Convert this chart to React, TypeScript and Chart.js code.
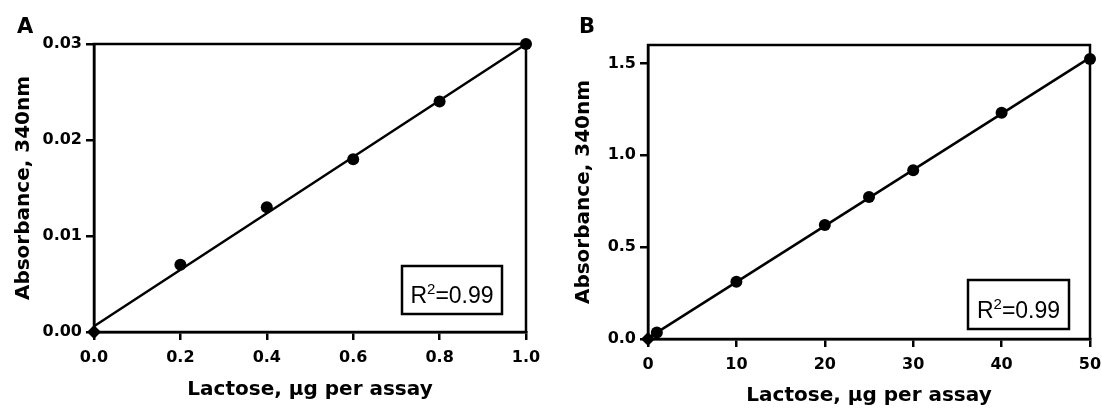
import React, { useEffect, useRef } from 'react';
import { Chart, registerables } from 'chart.js';

Chart.register(...registerables);

// Panel A data
const lactoseA = [0, 0.2, 0.4, 0.6, 0.8, 1.0];
const absorbanceA = [0, 0.007, 0.013, 0.018, 0.024, 0.030];
const fitXA = [0, 1.0];
const fitYA = [0.0006, 0.0300];
const xTicksA = [0, 0.2, 0.4, 0.6, 0.8, 1.0];
const yTicksA = [0, 0.01, 0.02, 0.03];

// Panel B data
const lactoseB = [0, 1, 10, 20, 25, 30, 40, 50];
const absorbanceB = [0, 0.035, 0.312, 0.62, 0.773, 0.919, 1.231, 1.524];
const fitXB = [0, 50];
const fitYB = [0.005, 1.531];
const xTicksB = [0, 10, 20, 30, 40, 50];
const yTicksB = [0, 0.5, 1.0, 1.5];

const xTitle = 'Lactose, µg per assay';
const yTitle = 'Absorbance, 340nm';
const INK = '#000';
const FONT = 'DejaVu Sans';
const BOX_FONT = 'Liberation Sans';
const LW = 2.5;

const framePlugin = {
  id: 'frame',
  beforeDatasetsDraw(chart: any) {
    const { ctx, chartArea } = chart;
    ctx.save();
    ctx.strokeStyle = INK;
    ctx.lineWidth = LW;
    ctx.strokeRect(chartArea.left, chartArea.top, chartArea.right - chartArea.left, chartArea.bottom - chartArea.top);
    ctx.restore();
  },
  afterDraw(chart: any, _args: any, opts: any) {
    const { ctx } = chart;
    ctx.save();
    // panel letter
    ctx.fillStyle = INK;
    ctx.font = `bold 21px "${FONT}"`;
    ctx.textBaseline = 'alphabetic';
    ctx.textAlign = 'left';
    ctx.fillText(opts.letter, opts.letterX, opts.letterY);
    // R² box
    const b = opts.box;
    ctx.lineWidth = LW;
    ctx.strokeStyle = INK;
    ctx.strokeRect(b.x, b.y, b.w, b.h);
    const big = `23px "${BOX_FONT}"`;
    const small = `15px "${BOX_FONT}"`;
    ctx.font = big;
    const wR = ctx.measureText('R').width;
    const wRest = ctx.measureText('=0.99').width;
    ctx.font = small;
    const w2 = ctx.measureText('2').width;
    const total = wR + w2 + wRest;
    let x = b.x + (b.w - total) / 2;
    const base = b.y + b.h - 11;
    ctx.font = big;
    ctx.fillText('R', x, base);
    x += wR;
    ctx.font = small;
    ctx.fillText('2', x, base - 9);
    x += w2;
    ctx.font = big;
    ctx.fillText('=0.99', x, base);
    ctx.restore();
  },
};

function makeConfig(p: any) {
  const pts = p.xs.map((x: number, i: number) => ({ x, y: p.ys[i] }));
  const fit = p.fx.map((x: number, i: number) => ({ x, y: p.fy[i] }));
  const tickFont = { family: FONT, size: 16, weight: 'bold' as const };
  const titleFont = { family: FONT, size: 20, weight: 'bold' as const };
  const grid = {
    display: true,
    drawOnChartArea: false,
    drawTicks: true,
    tickLength: 8,
    color: INK,
    lineWidth: LW,
  };
  return {
    type: 'scatter' as const,
    data: {
      datasets: [
        {
          data: fit,
          showLine: true,
          borderColor: INK,
          borderWidth: LW,
          pointRadius: 0,
          clip: false,
          order: 2,
        },
        {
          data: pts,
          showLine: false,
          backgroundColor: INK,
          borderColor: INK,
          borderWidth: 0,
          pointRadius: pts.map((_: any, i: number) => (i === 0 ? 7 : 6)),
          pointStyle: pts.map((_: any, i: number) => (i === 0 ? 'rectRot' : 'circle')),
          clip: false,
          order: 1,
        },
      ],
    },
    options: {
      responsive: false,
      animation: false,
      devicePixelRatio: 1,
      layout: { padding: p.padding },
      plugins: {
        legend: { display: false },
        tooltip: { enabled: false },
        frame: p.frame,
      },
      scales: {
        x: {
          type: 'linear',
          min: p.xMin,
          max: p.xMax,
          afterBuildTicks: (s: any) => {
            s.ticks = p.xTicks.map((v: number) => ({ value: v }));
          },
          afterFit: (s: any) => {
            s.height = p.xAxisH;
            s.paddingLeft = 0;
            s.paddingRight = 0;
          },
          ticks: {
            font: tickFont,
            color: INK,
            padding: p.xTickPad,
            maxRotation: 0,
            callback: p.xFmt,
          },
          grid,
          border: { display: true, color: INK, width: LW },
          title: {
            display: true,
            text: xTitle,
            font: titleFont,
            color: INK,
            padding: { top: 0, bottom: p.xTitlePad },
          },
        },
        y: {
          type: 'linear',
          min: p.yMin,
          max: p.yMax,
          afterBuildTicks: (s: any) => {
            s.ticks = p.yTicks.map((v: number) => ({ value: v }));
          },
          afterFit: (s: any) => {
            s.width = p.yAxisW;
            s.paddingTop = 0;
            s.paddingBottom = 0;
          },
          ticks: {
            font: tickFont,
            color: INK,
            padding: 4,
            callback: p.yFmt,
          },
          grid,
          border: { display: true, color: INK, width: LW },
          title: {
            display: true,
            text: yTitle,
            font: titleFont,
            color: INK,
            padding: { top: 12, bottom: 0 },
          },
        },
      },
    },
    plugins: [framePlugin],
  };
}

export default function App() {
  const refA = useRef<HTMLCanvasElement>(null);
  const refB = useRef<HTMLCanvasElement>(null);

  useEffect(() => {
    const chartA = new Chart(
      refA.current as HTMLCanvasElement,
      makeConfig({
        xs: lactoseA,
        ys: absorbanceA,
        fx: fitXA,
        fy: fitYA,
        xMin: 0,
        xMax: 1,
        yMin: 0,
        yMax: 0.03,
        xTicks: xTicksA,
        yTicks: yTicksA,
        xFmt: (v: any) => Number(v).toFixed(1),
        yFmt: (v: any) => Number(v).toFixed(2),
        padding: { left: 0, top: 44, right: 34, bottom: 0 },
        xAxisH: 79,
        yAxisW: 94,
        xTickPad: 8,
        xTitlePad: 9,
        frame: {
          letter: 'A',
          letterX: 17,
          letterY: 33,
          box: { x: 402, y: 266, w: 100, h: 48 },
        },
      }) as any
    );
    const chartB = new Chart(
      refB.current as HTMLCanvasElement,
      makeConfig({
        xs: lactoseB,
        ys: absorbanceB,
        fx: fitXB,
        fy: fitYB,
        xMin: 0,
        xMax: 50,
        yMin: 0,
        yMax: 1.6,
        xTicks: xTicksB,
        yTicks: yTicksB,
        xFmt: (v: any) => String(v),
        yFmt: (v: any) => Number(v).toFixed(1),
        padding: { left: 0, top: 45, right: 12, bottom: 0 },
        xAxisH: 72,
        yAxisW: 88,
        xTickPad: 8,
        xTitlePad: 3,
        frame: {
          letter: 'B',
          letterX: 19,
          letterY: 33,
          box: { x: 408, y: 280, w: 101, h: 49 },
        },
      }) as any
    );
    return () => {
      chartA.destroy();
      chartB.destroy();
    };
  }, []);

  return (
    <div
      style={{
        position: 'fixed',
        left: 0,
        top: 0,
        width: 1102,
        height: 411,
        background: '#fff',
      }}
    >
      <canvas
        ref={refA}
        width={560}
        height={411}
        style={{ position: 'absolute', left: 0, top: 0, width: 560, height: 411 }}
      />
      <canvas
        ref={refB}
        width={542}
        height={411}
        style={{ position: 'absolute', left: 560, top: 0, width: 542, height: 411 }}
      />
    </div>
  );
}
